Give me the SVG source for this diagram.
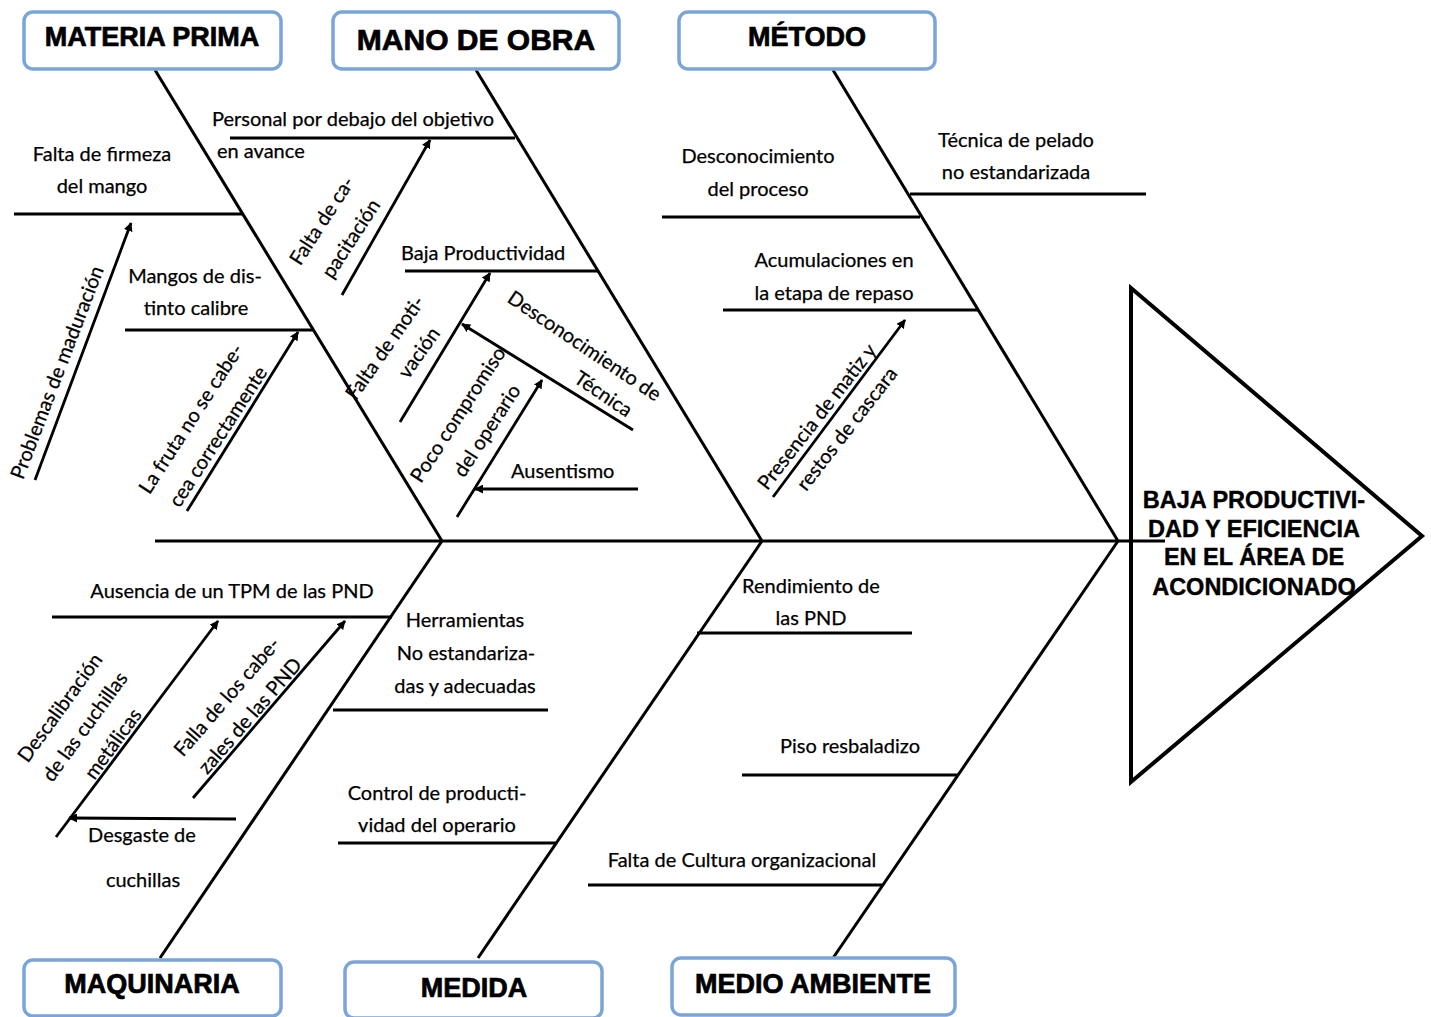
<svg xmlns="http://www.w3.org/2000/svg" width="1431" height="1017" viewBox="0 0 1431 1017">
<defs>
<marker id="ah" viewBox="0 0 10 10" refX="9" refY="5" markerWidth="9" markerHeight="9" markerUnits="userSpaceOnUse" orient="auto">
<path d="M0,0 L10,5 L0,10 z" fill="#000"/>
</marker>
<style>
.hdr{fill:#fff;stroke:#7aa5d8;stroke-width:3.5}
.ht{font-family:"Liberation Sans",Arial,sans-serif;font-weight:bold;font-size:27px;fill:#000;stroke:#000;stroke-width:0.7;text-anchor:middle}
.bone{stroke:#000;stroke-width:3;fill:none}
.sub{stroke:#000;stroke-width:2.8;fill:none}
.arr{stroke:#000;stroke-width:2.8;fill:none;marker-end:url(#ah)}
.t{font-family:Lato,"Liberation Sans",sans-serif;font-size:20px;fill:#000;stroke:#000;stroke-width:0.25}
.c{text-anchor:middle}
.r{text-anchor:middle;dominant-baseline:central}
.eff{font-family:"Liberation Sans",Arial,sans-serif;font-weight:bold;font-size:23.5px;fill:#000;stroke:#000;stroke-width:0.4;text-anchor:middle}
</style>
</defs>
<rect width="1431" height="1017" fill="#fff"/>

<g id="connectors">
<line class="bone" x1="155" y1="541" x2="1165" y2="541"/>
<line class="bone" x1="155" y1="70" x2="442" y2="541"/>
<line class="bone" x1="476" y1="70" x2="762" y2="541"/>
<line class="bone" x1="833" y1="70" x2="1118" y2="541"/>
<line class="bone" x1="160" y1="958" x2="442" y2="541"/>
<line class="bone" x1="478" y1="958" x2="762" y2="541"/>
<line class="bone" x1="833" y1="958" x2="1118" y2="541"/>
<!-- materia prima subs -->
<line class="sub" x1="14" y1="214" x2="242" y2="214"/>
<line class="sub" x1="125" y1="330" x2="313" y2="330"/>
<line class="arr" x1="35" y1="480" x2="131" y2="223"/>
<line class="arr" x1="187" y1="511" x2="298" y2="332"/>
<!-- mano de obra subs -->
<line class="sub" x1="230" y1="138" x2="515" y2="138"/>
<line class="sub" x1="405" y1="271" x2="598" y2="271"/>
<line class="arr" x1="342" y1="295" x2="430" y2="140"/>
<line class="arr" x1="400" y1="422" x2="490" y2="273"/>
<line class="arr" x1="633" y1="430" x2="462" y2="324"/>
<line class="arr" x1="457" y1="517" x2="542" y2="380"/>
<line class="arr" x1="638" y1="489" x2="475" y2="489"/>
<!-- metodo subs -->
<line class="sub" x1="662" y1="217" x2="920" y2="217"/>
<line class="sub" x1="910" y1="194" x2="1146" y2="194"/>
<line class="sub" x1="723" y1="310" x2="978" y2="310"/>
<line class="arr" x1="773" y1="497" x2="905" y2="320"/>
<!-- maquinaria subs -->
<line class="sub" x1="52" y1="617" x2="392" y2="617"/>
<line class="sub" x1="333" y1="710" x2="548" y2="710"/>
<line class="arr" x1="56" y1="837" x2="218" y2="621"/>
<line class="arr" x1="193" y1="798" x2="345" y2="621"/>
<line class="arr" x1="236" y1="819" x2="69" y2="818"/>
<!-- medida subs -->
<line class="sub" x1="697" y1="633" x2="912" y2="633"/>
<line class="sub" x1="338" y1="843" x2="556" y2="843"/>
<!-- medio ambiente subs -->
<line class="sub" x1="742" y1="775" x2="958" y2="775"/>
<line class="sub" x1="588" y1="885" x2="883" y2="885"/>
</g>

<g id="materia-prima">
<rect class="hdr" x="24" y="12" width="257" height="57" rx="9"/>
<text class="ht" x="152" y="46">MATERIA PRIMA</text>
</g>
<g id="mano-de-obra">
<rect class="hdr" x="333" y="12" width="286" height="57" rx="9"/>
<text class="ht" x="476" y="50" style="font-size:30px">MANO DE OBRA</text>
</g>
<g id="metodo">
<rect class="hdr" x="679" y="12" width="256" height="57" rx="9"/>
<text class="ht" x="807" y="46">MÉTODO</text>
</g>
<g id="maquinaria">
<rect class="hdr" x="24" y="960" width="257" height="56" rx="9"/>
<text class="ht" x="152" y="993">MAQUINARIA</text>
</g>
<g id="medida">
<rect class="hdr" x="345" y="962" width="257" height="56" rx="9"/>
<text class="ht" x="474" y="997">MEDIDA</text>
</g>
<g id="medio-ambiente">
<rect class="hdr" x="672" y="958" width="283" height="57" rx="9"/>
<text class="ht" x="813" y="993">MEDIO AMBIENTE</text>
</g>

<g id="efecto">
<polygon points="1131,288 1422,536 1131,782" fill="none" stroke="#000" stroke-width="4"/>
<text class="eff" x="1254" y="508">BAJA PRODUCTIVI-</text>
<text class="eff" x="1254" y="537">DAD Y EFICIENCIA</text>
<text class="eff" x="1254" y="565">EN EL ÁREA DE</text>
<text class="eff" x="1254" y="595">ACONDICIONADO</text>
</g>

<g id="causas-materia-prima">
<text class="t c" x="102" y="161">Falta de firmeza</text>
<text class="t c" x="102" y="193">del mango</text>
<text class="t c" x="195" y="283">Mangos de dis-</text>
<text class="t c" x="196" y="315">tinto calibre</text>
<text class="t r" transform="translate(56,372) rotate(-69)">Problemas de maduración</text>
<text class="t r" transform="translate(190,418) rotate(-57)">La fruta no se cabe-</text>
<text class="t r" transform="translate(217,436) rotate(-57)">cea correctamente</text>
</g>

<g id="causas-mano-de-obra">
<text class="t" x="212" y="126">Personal por debajo del objetivo</text>
<text class="t" x="217" y="158">en avance</text>
<text class="t" x="401" y="260">Baja Productividad</text>
<text class="t" x="511" y="478">Ausentismo</text>
<text class="t r" transform="translate(321,220) rotate(-57)">Falta de  ca-</text>
<text class="t r" transform="translate(350,238) rotate(-57)">pacitación</text>
<text class="t r" transform="translate(384,347) rotate(-55)">Falta de moti-</text>
<text class="t r" transform="translate(418,352) rotate(-55)">vación</text>
<text class="t r" transform="translate(457,414) rotate(-57)">Poco compromiso</text>
<text class="t r" transform="translate(486,430) rotate(-57)">del operario</text>
<text class="t r" transform="translate(585,345) rotate(34)">Desconocimiento de</text>
<text class="t r" transform="translate(604,393) rotate(34)">Técnica</text>
</g>

<g id="causas-metodo">
<text class="t c" x="758" y="163">Desconocimiento</text>
<text class="t c" x="758" y="196">del proceso</text>
<text class="t c" x="1016" y="147">Técnica de pelado</text>
<text class="t c" x="1016" y="179">no estandarizada</text>
<text class="t c" x="834" y="267">Acumulaciones en</text>
<text class="t c" x="834" y="300">la etapa de repaso</text>
<text class="t r" transform="translate(816,416) rotate(-52)">Presencia de matiz y</text>
<text class="t r" transform="translate(846,428) rotate(-52)">restos de cascara</text>
</g>

<g id="causas-maquinaria">
<text class="t c" x="232" y="598">Ausencia de un TPM de las PND</text>
<text class="t c" x="465" y="627">Herramientas</text>
<text class="t c" x="466" y="660">No estandariza-</text>
<text class="t c" x="465" y="693">das y adecuadas</text>
<text class="t c" x="142" y="842">Desgaste de</text>
<text class="t c" x="143" y="887">cuchillas</text>
<text class="t r" transform="translate(59,707) rotate(-54)">Descalibración</text>
<text class="t r" transform="translate(84,726) rotate(-54)">de las cuchillas</text>
<text class="t r" transform="translate(112,743) rotate(-54)">metálicas</text>
<text class="t r" transform="translate(226,696) rotate(-49)">Falla de los cabe-</text>
<text class="t r" transform="translate(249,715) rotate(-49)">zales de las PND</text>
</g>

<g id="causas-medida">
<text class="t c" x="437" y="800">Control de producti-</text>
<text class="t c" x="437" y="832">vidad del operario</text>
<text class="t c" x="811" y="593">Rendimiento de</text>
<text class="t c" x="811" y="625">las PND</text>
</g>

<g id="causas-medio-ambiente">
<text class="t c" x="850" y="753">Piso resbaladizo</text>
<text class="t c" x="742" y="867">Falta de Cultura organizacional</text>
</g>
</svg>
